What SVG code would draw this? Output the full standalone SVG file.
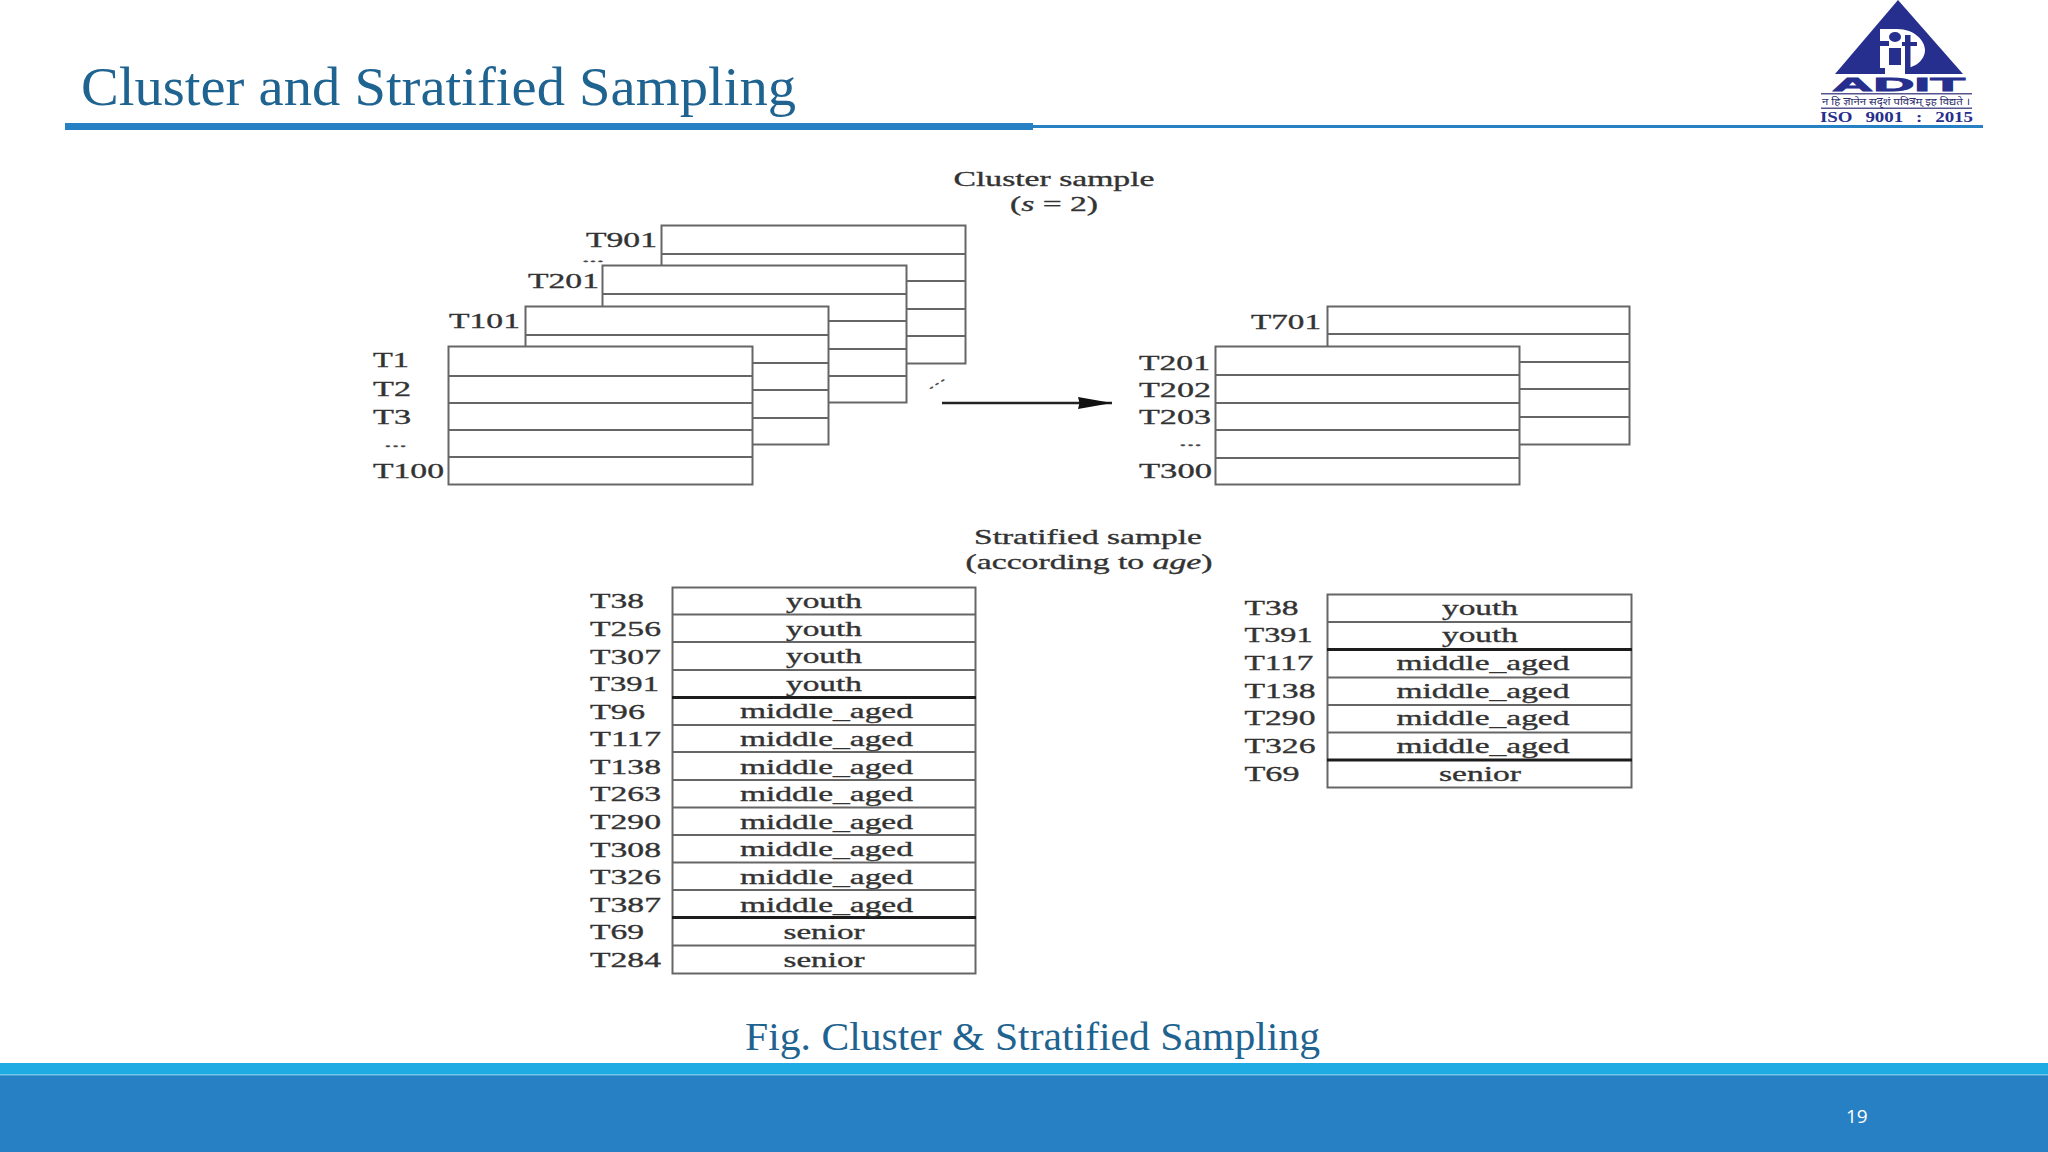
<svg xmlns="http://www.w3.org/2000/svg" width="2048" height="1152" viewBox="0 0 2048 1152">
<defs>
<marker id="ah" markerUnits="userSpaceOnUse" markerWidth="36" markerHeight="14" refX="34" refY="7" orient="auto"><path d="M0,1 L34,7 L0,13 L1.500,7 Z" fill="#111"/></marker>
</defs>
<style>
.bx{fill:#fff;stroke:#666;stroke-width:2}
.ln{stroke:#666;stroke-width:2;fill:none}
.hv{stroke:#1c1c1c;stroke-width:3;fill:none}
.t{font-family:"Liberation Serif",serif;font-size:22px;fill:#333;stroke:#333;stroke-width:.35px}
.d{font-family:"Liberation Serif",serif;font-size:12px;fill:#444;stroke:#444;stroke-width:.4px}
.m{text-anchor:middle}
.h{font-family:"Liberation Serif",serif;fill:#1f6391}
.lg{fill:#262f8e}
</style>
<rect width="2048" height="1152" fill="#fff"/>
<g id="header">
<text class="h" x="81" y="105" textLength="715" lengthAdjust="spacingAndGlyphs" font-size="54">Cluster and Stratified Sampling</text>
<rect x="65" y="123" width="968" height="7" fill="#2581c4"/>
<rect x="1033" y="125" width="950" height="3" fill="#2581c4"/>
</g>
<g id="logo">
<polygon class="lg" points="1898,0 1963,74 1835,74"/>
<path d="M1880,29 L1897,29 C1915,29 1925,41 1925,50 C1925,60 1915,68 1905,68 L1905,74 L1885,74 L1885,68 L1880,68 Z" fill="#fff"/>
<ellipse class="lg" cx="1895" cy="37" rx="6" ry="5"/>
<path class="lg" d="M1878,41 L1889,41 L1889,46 L1878,46 Z M1889,48 L1901,48 L1901,65 L1889,65 Z M1905,35 L1910.5,35 L1910.5,42 L1917,42 L1917,46 L1910.5,46 L1910.5,68 L1905,68 L1905,46 L1902,46 L1902,42 L1905,42 Z"/>
<text class="lg" x="1832" y="91" font-family="Liberation Sans, sans-serif" font-weight="bold" font-size="19" textLength="133" lengthAdjust="spacingAndGlyphs" stroke="#262f8e" stroke-width="0.8">ADIT</text>
<rect x="1821" y="93" width="151" height="1.5" fill="#55558f"/>
<rect x="1821" y="107.500" width="151" height="1.5" fill="#55558f"/>
<text x="1822" y="105" font-family="Noto Sans, sans-serif" font-size="10" textLength="148" lengthAdjust="spacingAndGlyphs" fill="#2c2c6a">न हि ज्ञानेन सदृशं पवित्रम् इह विद्यते ।</text>
<text class="lg" x="1820" y="122" font-family="Liberation Serif, serif" font-weight="bold" font-size="14" word-spacing="6" textLength="153" lengthAdjust="spacingAndGlyphs">ISO 9001 : 2015</text>
</g>
<g id="footer">
<rect y="1063" width="2048" height="12" fill="#1eaae2"/>
<rect y="1075" width="2048" height="77" fill="#2780c3"/>
<rect y="1074" width="2048" height="1.500" fill="#6fc4ea"/>
<text x="1846" y="1123" font-family="Open Sans, sans-serif" font-size="19" fill="#fff">19</text>
</g>
<text class="h" x="745" y="1050" textLength="575" lengthAdjust="spacingAndGlyphs" font-size="41">Fig. Cluster &amp; Stratified Sampling</text>

<g id="title-cluster">
<text class="t m" x="1054" y="186" textLength="201" lengthAdjust="spacingAndGlyphs">Cluster sample</text>
<text class="t m" x="1054" y="211" textLength="88" lengthAdjust="spacingAndGlyphs">(<tspan font-style="italic">s</tspan> = 2)</text>
</g>

<g id="stack-t901">
<rect class="bx" x="661.500" y="225.500" width="304" height="138"/>
<path class="ln" d="M661.500,254H965.500M661.500,281H965.500M661.500,309H965.500M661.500,336H965.500"/>
<text class="t" x="586" y="247" textLength="71" lengthAdjust="spacingAndGlyphs">T901</text>
<text class="d" style="font-size:11px" x="582" y="262" textLength="22" lengthAdjust="spacingAndGlyphs">...</text>
</g>
<g id="stack-t201">
<rect class="bx" x="602.500" y="265.500" width="304" height="137"/>
<path class="ln" d="M602.500,294H906.500M602.500,321H906.500M602.500,349H906.500M602.500,376H906.500"/>
<text class="t" x="528" y="288" textLength="71" lengthAdjust="spacingAndGlyphs">T201</text>
</g>
<g id="stack-t101">
<rect class="bx" x="525.500" y="306.500" width="303" height="138"/>
<path class="ln" d="M525.500,335H828.500M525.500,363H828.500M525.500,390H828.500M525.500,418H828.500"/>
<text class="t" x="449" y="328" textLength="71" lengthAdjust="spacingAndGlyphs">T101</text>
</g>
<g id="stack-t1">
<rect class="bx" x="448.500" y="346.500" width="304" height="138"/>
<path class="ln" d="M448.500,376H752.500M448.500,403H752.500M448.500,430H752.500M448.500,457H752.500"/>
<text class="t" x="373" y="367" textLength="36" lengthAdjust="spacingAndGlyphs">T1</text>
<text class="t" x="373" y="396" textLength="38" lengthAdjust="spacingAndGlyphs">T2</text>
<text class="t" x="373" y="424" textLength="38" lengthAdjust="spacingAndGlyphs">T3</text>
<text class="d" x="384" y="447" textLength="23" lengthAdjust="spacingAndGlyphs">...</text>
<text class="t" x="373" y="478" textLength="71" lengthAdjust="spacingAndGlyphs">T100</text>
</g>
<g id="connectors">
<line x1="942" y1="403" x2="1112" y2="403" stroke="#222" stroke-width="2.500" marker-end="url(#ah)"/>
</g>
<text class="d" transform="rotate(-33 929 390)" x="929" y="390" textLength="20" lengthAdjust="spacingAndGlyphs">...</text>

<g id="stack-t701">
<rect class="bx" x="1327.500" y="306.500" width="302" height="138"/>
<path class="ln" d="M1327.500,334H1629.500M1327.500,362H1629.500M1327.500,389H1629.500M1327.500,417H1629.500"/>
<text class="t" x="1251" y="329" textLength="70" lengthAdjust="spacingAndGlyphs">T701</text>
</g>
<g id="stack-t201b">
<rect class="bx" x="1215.500" y="346.500" width="304" height="138"/>
<path class="ln" d="M1215.500,375H1519.500M1215.500,403H1519.500M1215.500,430H1519.500M1215.500,458H1519.500"/>
<text class="t" x="1139" y="370" textLength="71" lengthAdjust="spacingAndGlyphs">T201</text>
<text class="t" x="1139" y="397" textLength="72" lengthAdjust="spacingAndGlyphs">T202</text>
<text class="t" x="1139" y="424" textLength="72" lengthAdjust="spacingAndGlyphs">T203</text>
<text class="d" x="1179" y="446" textLength="23" lengthAdjust="spacingAndGlyphs">...</text>
<text class="t" x="1139" y="478" textLength="73" lengthAdjust="spacingAndGlyphs">T300</text>
</g>

<g id="title-stratified">
<text class="t m" x="1088" y="544" textLength="228" lengthAdjust="spacingAndGlyphs">Stratified sample</text>
<text class="t m" x="1089" y="569" textLength="247" lengthAdjust="spacingAndGlyphs">(according to <tspan font-style="italic">age</tspan>)</text>
</g>

<g id="table-population">
<rect class="bx" x="672.500" y="587.500" width="303" height="386"/>
<path class="ln" d="M672,614.500H976M672,642H976M672,670H976M672,725H976M672,752H976M672,780H976M672,807.500H976M672,835H976M672,862.500H976M672,890H976M672,945.500H976"/>
<path class="hv" d="M672,697.500H976M672,917.500H976"/>
<g>
<text class="t" x="590" y="608" textLength="54" lengthAdjust="spacingAndGlyphs">T38</text>
<text class="t" x="590" y="635.600" textLength="71" lengthAdjust="spacingAndGlyphs">T256</text>
<text class="t" x="590" y="663.600" textLength="71" lengthAdjust="spacingAndGlyphs">T307</text>
<text class="t" x="590" y="690.800" textLength="69" lengthAdjust="spacingAndGlyphs">T391</text>
<text class="t" x="590" y="718.800" textLength="55" lengthAdjust="spacingAndGlyphs">T96</text>
<text class="t" x="590" y="746" textLength="71" lengthAdjust="spacingAndGlyphs">T117</text>
<text class="t" x="590" y="773.600" textLength="71" lengthAdjust="spacingAndGlyphs">T138</text>
<text class="t" x="590" y="801.200" textLength="71" lengthAdjust="spacingAndGlyphs">T263</text>
<text class="t" x="590" y="828.800" textLength="71" lengthAdjust="spacingAndGlyphs">T290</text>
<text class="t" x="590" y="857" textLength="71" lengthAdjust="spacingAndGlyphs">T308</text>
<text class="t" x="590" y="884" textLength="71" lengthAdjust="spacingAndGlyphs">T326</text>
<text class="t" x="590" y="911.600" textLength="71" lengthAdjust="spacingAndGlyphs">T387</text>
<text class="t" x="590" y="939.200" textLength="54" lengthAdjust="spacingAndGlyphs">T69</text>
<text class="t" x="590" y="966.800" textLength="71" lengthAdjust="spacingAndGlyphs">T284</text>
</g>
<g>
<text class="t m" x="824" y="608" textLength="76" lengthAdjust="spacingAndGlyphs">youth</text>
<text class="t m" x="824" y="635.600" textLength="76" lengthAdjust="spacingAndGlyphs">youth</text>
<text class="t m" x="824" y="663.200" textLength="76" lengthAdjust="spacingAndGlyphs">youth</text>
<text class="t m" x="824" y="690.800" textLength="76" lengthAdjust="spacingAndGlyphs">youth</text>
<text class="t m" x="826.500" y="718.400" textLength="173" lengthAdjust="spacingAndGlyphs">middle_aged</text>
<text class="t m" x="826.500" y="746" textLength="173" lengthAdjust="spacingAndGlyphs">middle_aged</text>
<text class="t m" x="826.500" y="773.600" textLength="173" lengthAdjust="spacingAndGlyphs">middle_aged</text>
<text class="t m" x="826.500" y="801.200" textLength="173" lengthAdjust="spacingAndGlyphs">middle_aged</text>
<text class="t m" x="826.500" y="828.800" textLength="173" lengthAdjust="spacingAndGlyphs">middle_aged</text>
<text class="t m" x="826.500" y="856.400" textLength="173" lengthAdjust="spacingAndGlyphs">middle_aged</text>
<text class="t m" x="826.500" y="884" textLength="173" lengthAdjust="spacingAndGlyphs">middle_aged</text>
<text class="t m" x="826.500" y="911.600" textLength="173" lengthAdjust="spacingAndGlyphs">middle_aged</text>
<text class="t m" x="824" y="939.200" textLength="81" lengthAdjust="spacingAndGlyphs">senior</text>
<text class="t m" x="824" y="966.800" textLength="81" lengthAdjust="spacingAndGlyphs">senior</text>
</g>
</g>

<g id="table-sample">
<rect class="bx" x="1327.500" y="594.500" width="304" height="193"/>
<path class="ln" d="M1327,622H1632M1327,677.500H1632M1327,705H1632M1327,732.500H1632"/>
<path class="hv" d="M1327,649.500H1632M1327,760H1632"/>
<g>
<text class="t" x="1244.500" y="615" textLength="54" lengthAdjust="spacingAndGlyphs">T38</text>
<text class="t" x="1244.500" y="642" textLength="68" lengthAdjust="spacingAndGlyphs">T391</text>
<text class="t" x="1244.500" y="670" textLength="69" lengthAdjust="spacingAndGlyphs">T117</text>
<text class="t" x="1244.500" y="698" textLength="71" lengthAdjust="spacingAndGlyphs">T138</text>
<text class="t" x="1244.500" y="725" textLength="71" lengthAdjust="spacingAndGlyphs">T290</text>
<text class="t" x="1244.500" y="753" textLength="71" lengthAdjust="spacingAndGlyphs">T326</text>
<text class="t" x="1244.500" y="780.500" textLength="55" lengthAdjust="spacingAndGlyphs">T69</text>
</g>
<g>
<text class="t m" x="1480" y="615" textLength="76" lengthAdjust="spacingAndGlyphs">youth</text>
<text class="t m" x="1480" y="642" textLength="76" lengthAdjust="spacingAndGlyphs">youth</text>
<text class="t m" x="1483" y="670" textLength="173" lengthAdjust="spacingAndGlyphs">middle_aged</text>
<text class="t m" x="1483" y="698" textLength="173" lengthAdjust="spacingAndGlyphs">middle_aged</text>
<text class="t m" x="1483" y="725" textLength="173" lengthAdjust="spacingAndGlyphs">middle_aged</text>
<text class="t m" x="1483" y="752.500" textLength="173" lengthAdjust="spacingAndGlyphs">middle_aged</text>
<text class="t m" x="1480" y="780.500" textLength="82" lengthAdjust="spacingAndGlyphs">senior</text>
</g>
</g>
</svg>
